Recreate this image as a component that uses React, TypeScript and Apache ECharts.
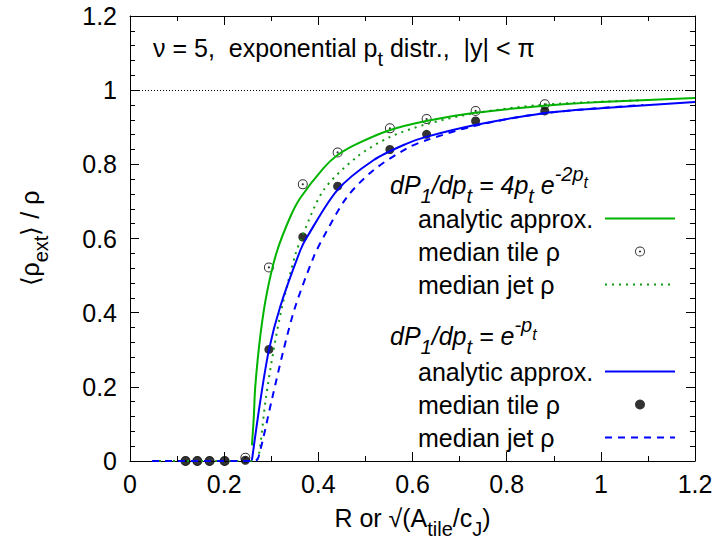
import React, { useEffect, useRef } from 'react';
import * as echarts from 'echarts';

const FONT = '"Liberation Sans", Arial, Helvetica, sans-serif';

// ---- data ----
// median tile rho (x positions shared by both distributions)
const tileX = [0.118, 0.143, 0.169, 0.201, 0.245, 0.295, 0.367, 0.441, 0.552, 0.630, 0.734, 0.881];
const tileOpenY = [0, 0, 0, 0, 0.009, 0.522, 0.746, 0.832, 0.897, 0.922, 0.944, 0.962]; // dP/dpt = 4pt e^-2pt
const tileFilledY = [0, 0, 0, 0, 0.002, 0.301, 0.604, 0.741, 0.840, 0.881, 0.917, 0.944]; // dP/dpt = e^-pt

// analytic approx., dP/dpt = 4 pt e^-2pt (green solid)
const greenAnaX = [0.259, 0.263, 0.266, 0.277, 0.291, 0.312, 0.341, 0.362, 0.411, 0.441, 0.482, 0.551, 0.629, 0.733, 0.880, 1.0, 1.2];
const greenAnaY = [0.042, 0.12, 0.2, 0.34, 0.455, 0.565, 0.66, 0.71, 0.79, 0.825, 0.855, 0.892, 0.917, 0.939, 0.958, 0.968, 0.979];

// median jet rho, dP/dpt = 4 pt e^-2pt (green dotted)
const greenJetX = [0.047, 0.265, 0.273, 0.288, 0.305, 0.323, 0.351, 0.365, 0.411, 0.482, 0.551, 0.629, 0.733, 0.880, 1.09];
const greenJetY = [0, 0, 0.011, 0.164, 0.299, 0.416, 0.556, 0.604, 0.730, 0.820, 0.873, 0.908, 0.938, 0.961, 0.973];

// analytic approx., dP/dpt = e^-pt (blue solid)
const blueAnaX = [0.259, 0.277, 0.295, 0.319, 0.362, 0.376, 0.440, 0.517, 0.588, 0.629, 0.733, 0.880, 1.0, 1.2];
const blueAnaY = [0.002, 0.164, 0.299, 0.416, 0.569, 0.604, 0.730, 0.811, 0.856, 0.874, 0.906, 0.938, 0.951, 0.968];

// median jet rho, dP/dpt = e^-pt (blue dashed)
const blueJetX = [0.047, 0.265, 0.273, 0.301, 0.326, 0.351, 0.390, 0.411, 0.461, 0.517, 0.588, 0.629, 0.733, 0.880, 1.09];
const blueJetY = [0, 0, 0.011, 0.164, 0.299, 0.416, 0.550, 0.604, 0.712, 0.784, 0.843, 0.865, 0.904, 0.938, 0.960];

const referenceLevel = 1;

const ZW = '\u200B';
const namesA = ['analytic approx.', 'median tile ρ', 'median jet ρ'];
const namesB = namesA.map((n) => n + ZW);

const zip = (xs: number[], ys: number[]) => xs.map((x, i) => [x, ys[i]]);

const RING =
  'path://M10,0A10,10 0 1,1 -10,0A10,10 0 1,1 10,0ZM8,0A8,8 0 1,0 -8,0A8,8 0 1,0 8,0ZM2.2,0A2.2,2.2 0 1,1 -2.2,0A2.2,2.2 0 1,1 2.2,0Z';

const GREEN = '#00b400';
const GREEN_DOT = '#119a11';
const BLUE = '#0000ff';

const tok = (o: any) => ({ fontFamily: FONT, fill: '#000', ...o });
const richG = {
  n: tok({ fontSize: 25 }),
  s: tok({ fontSize: 20, verticalAlign: 'bottom', height: 8 }),
  i: tok({ fontSize: 25, fontStyle: 'italic' }),
  is: tok({ fontSize: 20, fontStyle: 'italic', verticalAlign: 'bottom', height: 8 }),
  isup: tok({ fontSize: 20, fontStyle: 'italic', verticalAlign: 'top', height: 8 }),
  isupsub: tok({ fontSize: 16, fontStyle: 'italic', verticalAlign: 'top', height: 26 }),
};
const ecTok = (o: any) => ({ fontFamily: FONT, color: '#000', ...o });
const richE = {
  n: ecTok({ fontSize: 25, lineHeight: 30 }),
  s: ecTok({ fontSize: 20, lineHeight: 30, verticalAlign: 'bottom', height: 8 }),
};

function makeLegend(names: string[], top: number) {
  return {
    show: true,
    orient: 'vertical',
    align: 'right',
    left: 418,
    top,
    padding: 0,
    itemWidth: 70,
    itemHeight: 10,
    itemGap: 8,
    selectedMode: false,
    data: [
      { name: names[0], itemStyle: { opacity: 0 } },
      { name: names[1] },
      { name: names[2], itemStyle: { opacity: 0 } },
    ],
    formatter: (n: string) => '{t|' + n.replace(ZW, '') + '}',
    textStyle: {
      fontSize: 25,
      fontFamily: FONT,
      color: '#000',
      lineHeight: 22,
      rich: { t: { width: 182, align: 'left', fontSize: 25, fontFamily: FONT, color: '#000', lineHeight: 22 } },
    },
  };
}

function axisCommon(position: string, showLabel: boolean, minorSplit: number) {
  return {
    type: 'value',
    min: 0,
    max: 1.2,
    interval: 0.2,
    position,
    axisLine: { show: true, onZero: false, lineStyle: { color: '#000', width: 1 } },
    axisTick: { show: true, inside: true, length: 9, lineStyle: { color: '#000', width: 1 } },
    minorTick: { show: true, splitNumber: minorSplit, length: 5, lineStyle: { color: '#000', width: 1 } },
    splitLine: { show: false },
    minorSplitLine: { show: false },
    axisLabel: { show: showLabel, fontSize: 25, fontFamily: FONT, color: '#000', margin: 10 },
  };
}

export default function App() {
  const ref = useRef<HTMLDivElement>(null);
  useEffect(() => {
    if (!ref.current) return;
    const chart = echarts.init(ref.current, undefined, { renderer: 'svg' });
    const lineBase = {
      type: 'line',
      symbol: 'none',
      smooth: 0.3,
      clip: false,
      silent: true,
    };
    const option: any = {
      animation: false,
      backgroundColor: '#ffffff',
      textStyle: { fontFamily: FONT },
      grid: { left: 130, right: 24, top: 16, bottom: 78, containLabel: false, outerBoundsMode: 'none' },
      xAxis: [
        {
          ...axisCommon('bottom', true, 2),
          name: '{n|R or √(A}{s|tile}{n|/c}{s|J}{n|)}',
          nameLocation: 'middle',
          nameGap: 42,
          nameTextStyle: { fontSize: 25, fontFamily: FONT, color: '#000', lineHeight: 30, rich: richE },
        },
        { ...axisCommon('top', false, 2) },
      ],
      yAxis: [
        {
          ...axisCommon('left', true, 5),
          axisLabel: { show: true, fontSize: 25, fontFamily: FONT, color: '#000', margin: 13 },
          name: '{n|⟨ρ}{s|ext}{n|⟩ / ρ}',
          nameLocation: 'middle',
          nameGap: 85,
          nameTextStyle: { fontSize: 25, fontFamily: FONT, color: '#000', lineHeight: 30, rich: richE },
        },
        { ...axisCommon('right', false, 5) },
      ],
      legend: [makeLegend(namesA, 206), makeLegend(namesB, 359)],
      series: [
        {
          ...lineBase,
          name: namesA[0],
          data: zip(greenAnaX, greenAnaY),
          lineStyle: { color: GREEN, width: 2 },
          itemStyle: { color: GREEN },
          markLine: {
            silent: true,
            symbol: ['none', 'none'],
            label: { show: false },
            lineStyle: { color: '#000', width: 1, type: [1, 2] },
            emphasis: { disabled: true },
            data: [{ yAxis: referenceLevel }],
          },
        },
        {
          type: 'scatter',
          name: namesA[1],
          data: zip(tileX, tileOpenY),
          symbol: RING,
          symbolSize: 10,
          symbolKeepAspect: true,
          clip: false,
          silent: true,
          itemStyle: { color: '#000' },
        },
        {
          ...lineBase,
          name: namesA[2],
          data: zip(greenJetX, greenJetY),
          lineStyle: { color: GREEN_DOT, width: 2, type: [2, 5] },
          itemStyle: { color: GREEN_DOT },
        },
        {
          ...lineBase,
          name: namesB[0],
          data: zip(blueAnaX, blueAnaY),
          lineStyle: { color: BLUE, width: 2 },
          itemStyle: { color: BLUE },
        },
        {
          type: 'scatter',
          name: namesB[1],
          data: zip(tileX, tileFilledY),
          symbol: 'circle',
          symbolSize: 9,
          clip: false,
          silent: true,
          itemStyle: { color: '#000' },
        },
        {
          ...lineBase,
          name: namesB[2],
          data: zip(blueJetX, blueJetY),
          lineStyle: { color: BLUE, width: 2, type: [7, 6] },
          itemStyle: { color: BLUE },
        },
      ],
      graphic: [
        {
          type: 'text',
          x: 153,
          y: 48,
          silent: true,
          style: {
            text: '{n|ν = 5,  exponential p}{s|t}{n| distr.,  |y| < π}',
            fontSize: 25,
            fontFamily: FONT,
            fill: '#000',
            lineHeight: 30,
            align: 'left',
            verticalAlign: 'middle',
            rich: richG,
          },
        },
        {
          type: 'text',
          x: 390,
          y: 184.5,
          silent: true,
          style: {
            text: '{i|dP}{is|1}{i|/dp}{is|t}{i| = 4p}{is|t}{i| e}{isup|-2p}{isupsub|t}',
            fontSize: 25,
            fontFamily: FONT,
            fontStyle: 'italic',
            fill: '#000',
            lineHeight: 30,
            align: 'left',
            verticalAlign: 'middle',
            rich: richG,
          },
        },
        {
          type: 'text',
          x: 390,
          y: 336,
          silent: true,
          style: {
            text: '{i|dP}{is|1}{i|/dp}{is|t}{i| = e}{isup|-p}{isupsub|t}',
            fontSize: 25,
            fontFamily: FONT,
            fontStyle: 'italic',
            fill: '#000',
            lineHeight: 30,
            align: 'left',
            verticalAlign: 'middle',
            rich: richG,
          },
        },
      ],
    };
    chart.setOption(option);
    return () => chart.dispose();
  }, []);
  return (
    <div
      ref={ref}
      style={{ position: 'absolute', left: 0, top: 0, width: 719, height: 539, background: '#fff' }}
    />
  );
}
